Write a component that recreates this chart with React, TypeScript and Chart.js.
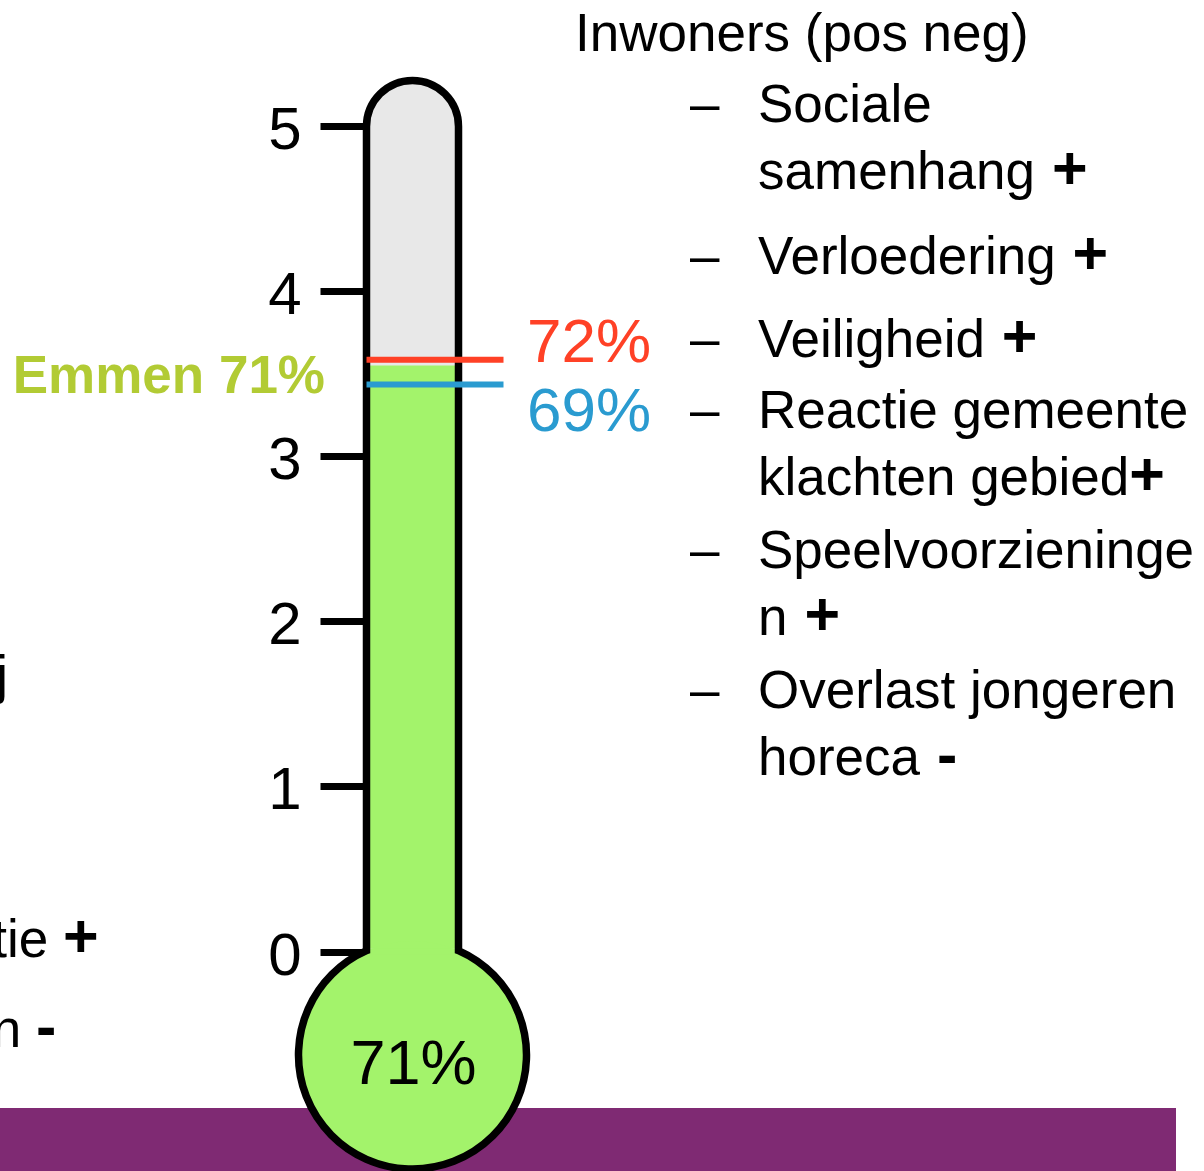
import React, { useEffect, useRef } from 'react';
import { Chart, registerables } from 'chart.js';

Chart.register(...registerables);

// ---------- data ----------
const categories = ['Emmen'];
const scoreValues = [3.55]; // 71% of the 0–5 scale
const scoreLabels = ['71%'];
const groupLabel = 'Emmen 71%';
const referenceValues = [3.6, 3.45]; // 72% and 69%
const referenceLabels = ['72%', '69%'];
const referenceColors = ['#FF4126', '#2A9BD0'];
const yTickValues = [0, 1, 2, 3, 4, 5];
const headerText = 'Inwoners (pos neg)';
const itemLines = [
  ['Sociale', 'samenhang'],
  ['Verloedering'],
  ['Veiligheid'],
  ['Reactie gemeente', 'klachten gebied'],
  ['Speelvoorzieninge', 'n'],
  ['Overlast jongeren', 'horeca'],
];
const itemSigns = [' +', ' +', ' +', '+', ' +', ' -'];
const leftFragments = ['j', 'tie ', 'n '];
const leftSigns = ['', '+', '-'];

const FONT = "'Liberation Sans', Arial, Helvetica, sans-serif";
const GREEN = '#A3F36B';

export default function App() {
  const ref = useRef<HTMLCanvasElement | null>(null);

  useEffect(() => {
    if (!ref.current) return;
    const W = 1204;
    const H = 1171;

    const drawRuns = (ctx: CanvasRenderingContext2D, x: number, y: number, runs: [string, boolean][], size: number, signSize: number) => {
      let cx = x;
      for (const [t, b] of runs) {
        ctx.font = b ? `bold ${signSize}px ${FONT}` : `${size}px ${FONT}`;
        ctx.fillText(t, cx, y);
        cx += ctx.measureText(t).width;
      }
    };

    const thermo = {
      id: 'thermo',
      beforeDraw(chart: any) {
        const ctx = chart.ctx as CanvasRenderingContext2D;
        ctx.save();
        ctx.fillStyle = '#FFFFFF';
        ctx.fillRect(0, 0, W, H);
        ctx.fillStyle = '#7F2A73';
        ctx.fillRect(0, 1108, 1176, H - 1108);
        ctx.restore();
      },
      beforeDatasetsDraw(chart: any) {
        const ctx = chart.ctx as CanvasRenderingContext2D;
        const ca = chart.chartArea;
        const ys = chart.scales.y;
        const cx = (ca.left + ca.right) / 2;
        const hw = (ca.right - ca.left) / 2;
        const topY = ys.getPixelForValue(5);
        const zeroY = ys.getPixelForValue(0);
        ctx.save();
        ctx.beginPath();
        ctx.moveTo(cx - hw, zeroY);
        ctx.lineTo(cx - hw, topY);
        ctx.arc(cx, topY, hw, Math.PI, 2 * Math.PI);
        ctx.lineTo(cx + hw, zeroY);
        ctx.closePath();
        ctx.fillStyle = '#E8E8E8';
        ctx.fill();
        ctx.restore();
      },
      afterDatasetsDraw(chart: any) {
        const ctx = chart.ctx as CanvasRenderingContext2D;
        const ca = chart.chartArea;
        const ys = chart.scales.y;
        const cx = (ca.left + ca.right) / 2;
        const hw = (ca.right - ca.left) / 2;
        const topY = ys.getPixelForValue(5);
        const zeroY = ys.getPixelForValue(0);
        const R = 114;
        const by = zeroY + 103;
        const d = Math.sqrt(R * R - hw * hw);
        const jy = by - d;
        const aR = Math.atan2(-d, hw);
        const aL = Math.atan2(-d, -hw) + 2 * Math.PI;
        ctx.save();
        // bulb fill
        ctx.beginPath();
        ctx.arc(cx, by, R, 0, 2 * Math.PI);
        ctx.fillStyle = GREEN;
        ctx.fill();
        ctx.fillRect(cx - hw, jy - 2, hw * 2, 6);
        // outline
        ctx.beginPath();
        ctx.moveTo(cx - hw, jy);
        ctx.lineTo(cx - hw, topY);
        ctx.arc(cx, topY, hw, Math.PI, 2 * Math.PI);
        ctx.lineTo(cx + hw, jy);
        ctx.arc(cx, by, R, aR, aL, false);
        ctx.closePath();
        ctx.lineWidth = 7.5;
        ctx.lineJoin = 'miter';
        ctx.strokeStyle = '#000000';
        ctx.stroke();
        // reference lines
        referenceValues.forEach((v, i) => {
          const py = ys.getPixelForValue(v) + 2;
          ctx.beginPath();
          ctx.moveTo(ca.left, py);
          ctx.lineTo(ca.right + 45, py);
          ctx.lineWidth = 6;
          ctx.strokeStyle = referenceColors[i];
          ctx.stroke();
          ctx.fillStyle = referenceColors[i];
          ctx.font = `62px ${FONT}`;
          ctx.textAlign = 'left';
          ctx.textBaseline = 'alphabetic';
          ctx.fillText(referenceLabels[i], 527, i === 0 ? py + 2 : py + 47);
        });
        // bulb label
        ctx.fillStyle = '#000000';
        ctx.font = `63px ${FONT}`;
        ctx.textAlign = 'center';
        ctx.fillText(scoreLabels[0], cx + 1, by + 29);
        // group label
        ctx.fillStyle = '#B2CB34';
        ctx.font = `bold 53px ${FONT}`;
        ctx.textAlign = 'right';
        ctx.fillText(groupLabel, 325, 393);
        ctx.restore();
      },
      afterDraw(chart: any) {
        const ctx = chart.ctx as CanvasRenderingContext2D;
        ctx.save();
        ctx.fillStyle = '#000000';
        ctx.textAlign = 'left';
        ctx.textBaseline = 'alphabetic';
        ctx.font = `53px ${FONT}`;
        ctx.fillText(headerText, 575, 51);
        const itemBaselines = [122, 274, 357, 428, 568, 708];
        const lineStep = 67;
        itemLines.forEach((lines, i) => {
          ctx.font = `53px ${FONT}`;
          ctx.fillText('\u2013', 690, itemBaselines[i]);
          lines.forEach((ln, k) => {
            const y = itemBaselines[i] + k * lineStep;
            const runs: [string, boolean][] = [[ln, false]];
            if (k === lines.length - 1) runs.push([itemSigns[i], true]);
            drawRuns(ctx, 758, y, runs, 53, 61);
          });
        });
        // cut-off text on the left edge
        const leftBaselines = [693, 957, 1047];
        const leftRightEdges = [8, 63, 36];
        leftFragments.forEach((t, i) => {
          ctx.font = `53px ${FONT}`;
          const w = ctx.measureText(t).width;
          drawRuns(ctx, leftRightEdges[i] - w, leftBaselines[i], [[t, false], [leftSigns[i], true]], 53, 61);
        });
        ctx.restore();
      },
    };

    const chart = new Chart(ref.current, {
      type: 'bar',
      data: {
        labels: categories,
        datasets: [
          {
            data: scoreValues,
            backgroundColor: GREEN,
            borderWidth: 0,
            barPercentage: 1,
            categoryPercentage: 1,
          },
        ],
      },
      options: {
        responsive: false,
        devicePixelRatio: 1,
        animation: false,
        layout: { padding: { left: 266.5, right: 745.5, top: 126.5, bottom: 219 } },
        plugins: { legend: { display: false }, tooltip: { enabled: false } },
        scales: {
          x: { display: false },
          y: {
            min: 0,
            max: 5,
            afterFit(s: any) {
              s.width = 100;
            },
            afterBuildTicks(s: any) {
              s.ticks = yTickValues.map((v) => ({ value: v }));
            },
            ticks: {
              stepSize: 1,
              color: '#000000',
              font: { size: 60, family: FONT },
              padding: 19,
              labelOffset: 6,
            },
            grid: { drawOnChartArea: false, color: '#000000', lineWidth: 7, tickLength: 46 },
            border: { display: false },
          },
        },
      },
      plugins: [thermo],
    } as any);

    return () => chart.destroy();
  }, []);

  return (
    <div style={{ position: 'absolute', left: 0, top: 0, width: 1204, height: 1171 }}>
      <canvas ref={ref} width={1204} height={1171} style={{ display: 'block' }} />
    </div>
  );
}
